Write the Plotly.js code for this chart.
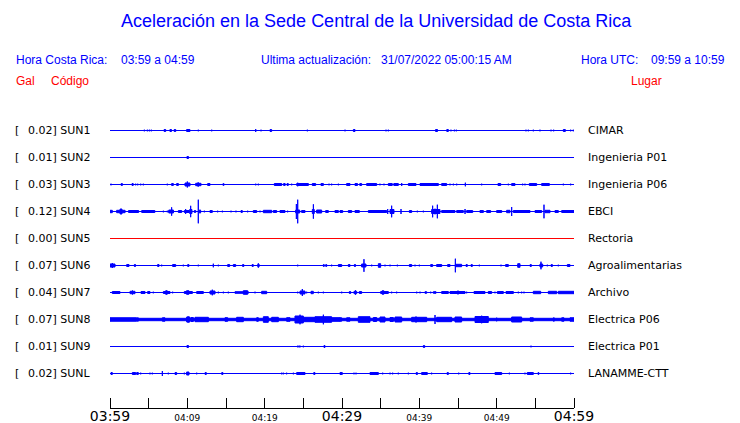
<!DOCTYPE html>
<html>
<head>
<meta charset="utf-8">
<script src="https://cdn.plot.ly/plotly-3.0.1.min.js"></script>
<style>html,body{margin:0;padding:0;background:#fff;}#chart{width:740px;height:423px;}</style>
</head>
<body>
<div id="chart"></div>
<script>
// ---- data (minutes after 03:59, visible half-height in px) ----
const codes  = ["SUN1","SUN2","SUN3","SUN4","SUN5","SUN6","SUN7","SUN8","SUN9","SUNL"];
const gal    = ["0.02","0.01","0.03","0.12","0.00","0.07","0.04","0.07","0.01","0.02"];
const places = ["CIMAR","Ingenieria P01","Ingenieria P06","EBCI","Rectoria","Agroalimentarias","Archivo","Electrica P06","Electrica P01","LANAMME-CTT"];
const traceColors = ["#0000ff","#0000ff","#0000ff","#0000ff","#ff0000","#0000ff","#0000ff","#0000ff","#0000ff","#0000ff"];
const tickMinutes = [0,5,10,15,20,25,30,35,40,45,50,55,60];
const tickLabels  = ["03:59","","04:09","","04:19","","04:29","","04:39","","04:49","","04:59"];
const bigLabels   = ["03:59","04:29","04:59"];

const sun1 = [[0.56,0.56,1],[1.51,1.51,1],[4.44,4.44,1.3],[4.83,4.83,1.3],[5.09,5.09,1.3],[5.34,5.34,1.3],[7.0,7.2,1.5],[7.75,7.95,1.5],[8.3,8.5,1.5],[9.91,10.34,1.5],[11.42,11.42,1.3],[13.15,13.15,1.3],[17.37,17.37,1],[18.84,18.84,2],[19.53,19.53,1.3],[20.7,20.9,1.5],[25.52,25.52,1.3],[27.37,27.37,1],[30.39,30.39,1.3],[31.47,31.68,1.5],[35.69,35.69,1.3],[35.99,35.99,1.3],[42.1,42.35,1.5],[43.55,43.75,1.5],[44.09,44.09,1.3],[44.53,44.53,1.3],[44.78,44.78,1.3],[45.39,45.39,1],[45.82,45.82,1],[51.81,51.81,1],[53.79,53.79,1.3],[54.09,54.09,1.3],[54.74,54.74,1.3],[55.6,55.6,1.3],[57.03,57.03,1.3],[57.37,57.37,1.3],[58.62,58.88,1.5],[59.57,59.57,1.3],[59.91,59.91,1.3]];
const sun2 = [[9.95,10.15,1.5]];
const sun3 = [[0.13,0.13,1.3],[1.45,1.6,1.5],[2.85,3.0,1.5],[3.32,3.32,1.3],[3.58,3.58,1.3],[3.97,3.97,1.3],[4.31,4.31,1.3],[5.95,5.95,1],[7.41,7.41,1.3],[7.97,8.19,1.5],[8.62,8.84,1.5],[9.7,10.34,2],[10.0,10.0,3.5],[11.08,11.77,1.7],[11.4,11.4,2.7],[12.63,12.93,1.5],[14.6,14.75,1.3],[17.37,17.37,1],[18.84,18.84,1.3],[19.18,19.18,1.3],[21.25,22.2,1.5],[22.45,22.65,1.5],[22.9,23.05,1.5],[23.49,23.49,1.3],[24.14,25.65,1.5],[24.27,24.27,2.3],[26.16,26.59,1.5],[27.28,27.59,1.5],[28.32,28.32,1.3],[28.66,28.66,1.3],[29.53,29.53,1.3],[30.6,31.03,1.5],[31.68,32.0,1.5],[32.3,32.54,1.5],[33.19,34.48,1.5],[34.91,34.91,1.3],[35.43,35.43,1.3],[35.99,36.5,1.5],[36.7,37.28,1.5],[37.72,37.72,2],[38.58,39.57,1.5],[40.09,42.46,1.5],[42.3,42.3,2],[42.89,43.53,1.5],[43.97,43.97,1.3],[44.4,44.4,1.3],[44.83,44.83,1.3],[45.95,45.95,2.3],[46.9,46.9,1],[48.06,48.06,1.3],[49.14,49.14,1],[50.17,50.52,1.5],[51.51,51.51,1.3],[51.94,52.37,1.5],[53.36,53.36,1.3],[53.66,53.66,1.3],[54.22,55.17,1.5],[55.82,56.81,1.5],[58.62,58.62,1.3],[59.57,59.57,1.3]];
const sun4 = [[0,0.3,1.7],[0.86,1.95,1.7],[1.3,1.55,3],[2.4,3.7,1.5],[4.1,5.8,1.5],[6.9,6.9,1.3],[7.41,7.41,1.3],[7.6,8.2,2],[7.97,7.97,4.7],[8.84,9.27,1.5],[9.61,10.22,1.5],[9.78,9.78,3],[10.43,10.43,6.2],[10.3,10.6,2.5],[10.91,11.08,1.5],[11.42,11.42,12.3],[11.55,11.72,2],[12.2,12.2,1.3],[12.93,13.23,1.5],[13.92,13.92,1.3],[14.53,14.53,1.3],[15.65,15.65,1.3],[16.29,16.29,1.3],[16.94,17.11,1.5],[17.8,17.8,1.3],[18.53,18.97,1.5],[19.4,19.4,1.3],[19.83,20.91,1.7],[21.12,21.55,1.5],[21.98,22.63,1.5],[22.97,22.97,1.3],[24.01,24.53,2],[24.1,24.1,8],[24.27,24.27,12.3],[24.78,25.22,1.5],[26.16,26.42,2.5],[26.3,26.3,7.7],[26.72,27.37,2],[27.89,28.23,1.5],[29.09,29.53,1.5],[29.74,30.09,1.5],[30.82,31.25,1.5],[31.68,32.24,1.5],[33.41,35.78,1.5],[35.91,35.91,3],[36.21,36.72,2.5],[36.42,36.42,6.3],[37.63,37.63,3],[38.71,39.01,1.5],[39.74,39.74,1.3],[40.52,40.52,1.3],[41.59,42.67,2.5],[41.72,41.72,6.3],[42.03,42.03,3.3],[42.33,42.33,7.3],[42.89,44.61,1.5],[44.83,45.69,1.5],[45.91,45.91,3],[46.12,46.9,1.5],[47.84,48.28,1.5],[48.71,49.22,1.5],[50.0,50.65,1.5],[51.29,51.72,1.7],[51.94,51.94,5],[52.16,54.31,1.5],[54.96,55.82,1.5],[56.12,56.12,7.3],[56.25,56.9,1.7],[57.54,57.97,1.5],[58.41,60,1.5]];
const sun5 = [];
const sun6 = [[0,0.65,2],[0.3,0.3,3],[2.16,2.46,1.5],[3.15,3.3,1.5],[6.16,6.34,1.5],[6.68,6.68,1.3],[8.1,8.49,1.5],[9.48,9.48,1.3],[10.05,10.2,1.5],[11.42,11.42,1.3],[13.36,13.36,2.3],[14.01,14.01,1.3],[15.22,15.47,1.5],[15.95,16.25,1.5],[17.15,17.3,1.5],[18.38,18.52,1.5],[19.1,19.3,1.5],[19.18,19.18,2.7],[22.93,22.93,1],[24.27,24.27,1.3],[25.13,25.13,1],[26.16,26.16,1],[27.59,27.7,1.5],[27.9,28.02,1.5],[28.66,28.66,1.3],[29.53,29.96,1.5],[30.82,31.03,1.5],[31.6,31.75,1.5],[32.54,33.1,2],[32.84,32.84,6.8],[33.84,33.84,1.3],[34.7,35.0,2.3],[35.56,35.56,1.3],[36.21,36.21,1.3],[37.16,37.16,1.3],[38.71,39.01,1.5],[39.44,39.44,1.3],[40.0,40.0,1.3],[41.47,41.72,1.5],[42.24,42.89,1.5],[43.66,43.97,1.5],[44.66,45.47,1.7],[44.66,44.66,7.3],[46.05,46.2,1.5],[46.7,46.85,1.5],[47.76,47.76,1.3],[49.57,49.57,1],[50.56,50.56,1.3],[51.16,51.51,1.5],[52.72,53.02,2.3],[54.33,54.48,1.5],[55.6,55.95,2],[55.73,55.73,4.3],[56.55,56.55,1.3],[57.05,57.2,1.5],[57.97,57.97,1.3],[59.14,59.48,1.5]];
const sun7 = [[0.3,1.29,1.5],[2.59,3.23,1.7],[2.9,2.9,2.5],[4.01,4.53,1.5],[4.87,5.17,1.5],[5.6,5.6,1.3],[6.9,7.76,1.5],[7.2,7.4,2.3],[8.1,8.1,1.3],[9.61,10.65,1.5],[9.9,10.2,2.3],[11.21,12.07,1.5],[12.93,13.58,2],[13.23,13.23,3.3],[14.01,14.01,1.3],[14.66,14.66,1.3],[15.3,15.3,1.3],[16.16,17.89,1.3],[17.24,17.8,2.3],[18.75,18.75,1.3],[19.61,20.26,1.7],[20.91,20.91,1],[23.41,23.41,1],[24.27,24.27,1.3],[24.57,25.22,2],[24.87,24.87,4],[25.43,25.43,1.3],[25.99,26.29,1.7],[26.94,26.94,1.3],[27.59,27.59,1.3],[29.96,29.96,1.3],[30.95,31.12,1.5],[31.55,31.9,1.7],[31.75,31.75,2.7],[32.24,32.54,1.5],[35.0,35.99,1.5],[35.2,35.4,2.3],[36.42,36.42,1.3],[37.07,37.07,1.3],[38.49,38.49,1],[39.66,39.66,1.3],[40.09,40.09,1.3],[40.73,40.95,1.3],[41.47,41.47,1.3],[41.81,42.16,1.3],[42.89,43.75,1.5],[43.97,45.91,1.5],[44.9,45.1,2],[46.12,46.12,1.3],[47.07,48.49,1.5],[48.92,49.35,1.5],[49.78,49.78,1.3],[50.09,50.86,1.5],[51.21,52.16,1.5],[52.8,52.8,1.3],[53.23,53.23,1.3],[53.53,53.53,1.3],[54.74,55.69,1.7],[56.68,57.76,1.7],[57.97,60,1.7]];
const sun8 = [[0,60,1.7],[0,3.45,2.2],[3.53,3.66,2.2],[6.77,7.11,2.2],[9.91,10.34,3],[10.1,10.1,3.7],[10.47,10.78,2.5],[10.99,12.72,2.7],[14.87,15.22,2.3],[16.38,17.24,2.7],[18.97,19.18,2.3],[19.83,20.47,3.3],[20.91,21.77,2.7],[22.84,23.28,2.3],[23.92,25.0,4],[24.57,24.57,5.3],[25.0,26.51,2.7],[26.51,28.66,3.3],[27.59,27.59,5.3],[28.66,29.74,2.3],[29.74,29.96,2.2],[30.6,31.03,2.2],[32.11,33.62,3.3],[34.05,34.48,2.5],[34.91,35.56,3],[36.21,36.64,2.5],[36.85,37.72,3],[39.01,40.95,2.7],[39.57,39.57,3.5],[42.03,42.03,5],[42.24,44.18,2.7],[44.61,45.47,3],[47.2,48.92,3.5],[48.06,48.06,4.3],[50.0,50.0,2.3],[51.94,53.23,3],[54.31,54.74,2.2],[57.33,57.45,2.2],[58.41,58.71,2.2],[59.48,60,2.2]];
const sun9 = [[9.95,10.15,1.5],[24.27,24.27,1.3],[24.44,24.44,1.3],[24.57,24.57,1.3],[25.0,25.0,1.3],[27.28,27.28,1],[27.67,27.8,1.5],[32.54,32.54,1],[34.7,34.7,1],[36.51,36.51,1],[40.52,40.69,1.5],[42.37,42.37,1],[43.45,43.45,1],[48.19,48.19,1],[54.44,54.44,1.3]];
const sunL = [[0.13,0.3,1.5],[1.16,1.16,1],[2.89,3.32,1.5],[3.45,3.66,1.5],[3.97,3.97,1.3],[5.17,5.17,1.3],[5.47,5.47,1.3],[6.77,6.77,3],[7.54,7.54,1.3],[8.41,8.62,1.5],[9.61,9.61,1.3],[9.91,10.22,2],[11.21,11.21,1.3],[12.3,12.45,1.5],[14.45,14.6,1.5],[17.37,17.37,1],[18.53,18.53,1],[21.55,21.55,1],[22.2,22.2,1.3],[22.41,22.41,1.3],[22.84,22.84,1.3],[23.71,23.71,1.3],[24.14,25.22,1.5],[26.35,26.5,1.5],[29.74,30.04,1.5],[31.55,31.55,1.3],[31.81,31.81,1.3],[33.62,34.7,1.5],[35.26,35.26,1.3],[36.21,36.21,1.3],[36.55,36.55,1.3],[37.28,37.28,1.3],[38.58,38.58,1.3],[39.6,39.75,1.5],[40.3,41.03,1.5],[41.59,41.59,1.3],[43.6,43.75,1.5],[45.09,45.09,1.3],[46.4,46.55,1.5],[49.78,50.65,1.5],[51.64,51.64,1.3],[53.66,53.66,1.3],[53.96,54.74,1.5],[55.35,55.45,1.5],[59.57,59.57,1.3]];
const events = [sun1,sun2,sun3,sun4,sun5,sun6,sun7,sun8,sun9,sunL];

// ---- layout geometry ----
const PX_ROW = 27;             // pixels between rows
const plotL = 110, plotR = 574, plotT = 116, plotB = 408;
const yTop = (14.5)/PX_ROW, yBot = -9 - (408-373.5)/PX_ROW;

const traces = [];
events.forEach((ev, i) => {
  const base = -i;
  const col = traceColors[i];
  traces.push({x:[0,60], y:[base,base], mode:'lines', line:{color:col, width:1}, hoverinfo:'skip', showlegend:false,
               xaxis: i === 4 ? 'x2' : 'x'});
  if (ev.length) {
    const xs = [], ys = [];
    ev.forEach(([t0,t1,a]) => {
      const h = Math.max(a-0.5, 0.2)/PX_ROW;
      xs.push(t0,t1,t1,t0,t0,null);
      ys.push(base-h,base-h,base+h,base+h,base-h,null);
    });
    traces.push({x:xs, y:ys, mode:'lines', fill:'toself', fillcolor:col, line:{color:col, width:1}, connectgaps:false, hoverinfo:'skip', showlegend:false});
  }
});

const px2x = px => (px-plotL)/(plotR-plotL);
const py2y = py => (plotB-py)/(plotB-plotT);
function ann(text, px, py, size, color, family, anchor) {
  return {text:text, xref:'paper', yref:'paper', x:px2x(px), y:py2y(py), xanchor:anchor||'left', yanchor:'middle',
    showarrow:false, borderpad:0, font:{size:size, color:color, family:family}};
}
const SANS = 'Liberation Sans, Arial, sans-serif';
const DJV = 'DejaVu Sans, sans-serif';
const annotations = [
  ann('Aceleración en la Sede Central de la Universidad de Costa Rica', 376, 21, 18, '#0000ff', SANS, 'center'),
  ann('Hora Costa Rica:', 15, 60, 12, '#0000ff', SANS),
  ann('03:59 a 04:59', 120, 60, 12, '#0000ff', SANS),
  ann('Ultima actualización:', 260, 60, 12, '#0000ff', SANS),
  ann('31/07/2022 05:00:15 AM', 380, 60, 12, '#0000ff', SANS),
  ann('Hora UTC:', 580, 60, 12, '#0000ff', SANS),
  ann('09:59 a 10:59', 650, 60, 12, '#0000ff', SANS),
  ann('Gal', 15, 81, 12, '#ff0000', SANS),
  ann('Código', 50, 81, 12, '#ff0000', SANS),
  ann('Lugar', 630, 81, 12, '#ff0000', SANS)
];
codes.forEach((c, i) => {
  const py = 130.5 + PX_ROW*i;
  annotations.push(ann('[', 14, py, 11, '#000', DJV));
  annotations.push(ann(gal[i] + '] ' + c, 27, py, 11, '#000', DJV));
  annotations.push(ann(places[i], 587, py, 11, '#000', DJV));
});

const tickText = tickLabels.map(t => bigLabels.includes(t) ? '<span style="font-size:14px">'+t+'</span>' : t);

const layout = {
  width:740, height:423,
  margin:{l:plotL, r:740-plotR, t:plotT, b:423-plotB, pad:0},
  paper_bgcolor:'#fff', plot_bgcolor:'#fff',
  showlegend:false,
  // labels-only axis at the bottom
  xaxis:{range:[0,60], fixedrange:true, showgrid:false, zeroline:false, showline:false,
    ticks:'', tickmode:'array', tickvals:tickMinutes, ticktext:tickText, ticklabelstandoff:3,
    tickfont:{family:DJV, size:9, color:'#000'}, tickangle:0, automargin:false},
  // line + upward ticks axis placed on the same bottom edge
  xaxis2:{range:[0,60], overlaying:'x', side:'top', anchor:'free', position:0, fixedrange:true,
    showgrid:false, zeroline:false, showline:true, linecolor:'#000', linewidth:1,
    ticks:'outside', ticklen:10, tickwidth:1, tickcolor:'#000', tickmode:'array', tickvals:tickMinutes,
    showticklabels:false, automargin:false},
  yaxis:{range:[yBot, yTop], visible:false, fixedrange:true},
  annotations:annotations
};
Plotly.newPlot('chart', traces, layout, {staticPlot:true, displayModeBar:false});
</script>
</body>
</html>
